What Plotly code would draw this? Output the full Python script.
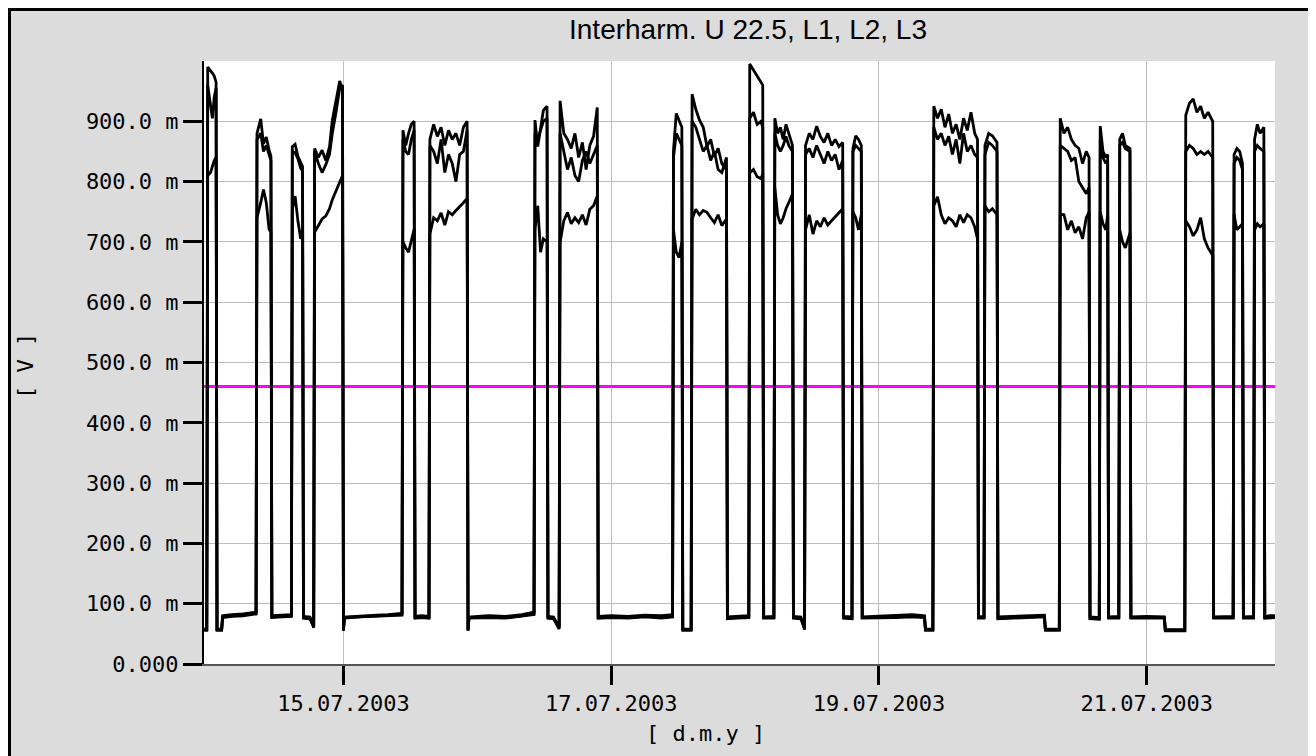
import plotly.graph_objects as go

# ---------------- data ----------------
# sample times, "DD HH:MM" in July 2003, one line per segment (low / high phases)
times = [
    "13 23:00", "13 23:30",
    "13 23:40", "14 00:10", "14 00:30", "14 00:50", "14 01:10",
    "14 01:20", "14 02:10", "14 02:20", "14 04:00", "14 06:00", "14 08:20",
    "14 08:30", "14 09:10", "14 09:40", "14 10:10", "14 10:40", "14 11:00",
    "14 11:10", "14 13:00", "14 14:40",
    "14 14:50", "14 15:20", "14 15:50", "14 16:20", "14 16:40",
    "14 16:50", "14 18:00", "14 18:40",
    "14 18:50", "14 19:30", "14 20:10", "14 20:50", "14 21:30", "14 22:00", "14 22:40", "14 23:20", "14 23:50",
    "15 00:00", "15 00:10", "15 03:00", "15 06:00", "15 08:00", "15 10:30",
    "15 10:40", "15 11:10", "15 11:40", "15 12:10", "15 12:40",
    "15 12:50", "15 14:00", "15 15:20",
    "15 15:30", "15 16:10", "15 16:50", "15 17:30", "15 18:10", "15 18:50", "15 19:30", "15 20:10", "15 20:50", "15 21:30", "15 22:10",
    "15 22:20", "15 22:30", "16 02:00", "16 05:00", "16 08:00", "16 10:10",
    "16 10:20", "16 10:50", "16 11:20", "16 11:50", "16 12:30",
    "16 12:40", "16 13:40", "16 14:40",
    "16 14:50", "16 15:30", "16 16:10", "16 16:50", "16 17:30", "16 18:10", "16 18:50", "16 19:30", "16 20:10", "16 20:50", "16 21:30",
    "16 21:40", "17 00:00", "17 03:00", "17 06:00", "17 09:00", "17 11:00",
    "17 11:10", "17 11:40", "17 12:10", "17 12:40",
    "17 12:50", "17 14:20",
    "17 14:30", "17 15:10", "17 15:50", "17 16:30", "17 17:10", "17 17:50", "17 18:30", "17 19:10", "17 19:50", "17 20:40",
    "17 20:50", "17 22:30", "18 00:40",
    "18 00:50", "18 01:30", "18 02:10", "18 02:50", "18 03:10",
    "18 03:20", "18 05:10",
    "18 05:20", "18 05:50", "18 06:20", "18 06:50", "18 07:20", "18 07:50", "18 08:30",
    "18 08:40", "18 10:00", "18 10:40",
    "18 10:50", "18 11:30", "18 12:10", "18 12:50", "18 13:30", "18 14:10", "18 14:50", "18 15:30", "18 16:10", "18 16:50", "18 17:30",
    "18 17:40", "18 19:10",
    "18 19:20", "18 19:50", "18 20:20", "18 20:50",
    "18 21:00", "19 00:00", "19 03:00", "19 06:00", "19 08:10", "19 08:20", "19 09:40",
    "19 09:50", "19 10:30", "19 11:10", "19 11:50", "19 12:30", "19 13:10", "19 13:50", "19 14:30", "19 15:10", "19 15:50", "19 16:30", "19 17:10", "19 17:40",
    "19 17:50", "19 18:50",
    "19 19:00", "19 19:40", "19 20:20", "19 21:10",
    "19 21:20", "20 00:00", "20 03:00", "20 05:40", "20 05:50", "20 08:20",
    "20 08:30", "20 09:10", "20 09:50", "20 10:30", "20 11:10", "20 11:50", "20 12:30", "20 13:10", "20 13:40",
    "20 13:50", "20 15:30",
    "20 15:40", "20 16:10", "20 16:40", "20 17:00",
    "20 17:10", "20 19:00",
    "20 19:10", "20 19:40", "20 20:10", "20 21:00",
    "20 21:10", "21 00:00", "21 03:10", "21 03:20", "21 06:50",
    "21 07:00", "21 07:40", "21 08:20", "21 09:00", "21 09:40", "21 10:20", "21 11:00", "21 11:50",
    "21 12:00", "21 15:30",
    "21 15:40", "21 16:10", "21 16:40", "21 17:10",
    "21 17:20", "21 19:10",
    "21 19:20", "21 19:50", "21 20:20", "21 21:00",
    "21 21:10", "21 22:00", "21 23:00",
]

# values in mV
l1 = [
    57, 57,
    990, 985, 980, 975, 965,
    57, 57, 80, 82, 83, 86,
    880, 904, 863, 874, 852, 842,
    80, 81, 82,
    858, 862, 842, 830, 825,
    79, 78, 60,
    855, 840, 852, 835, 858, 902, 934, 967, 951,
    55, 78, 80, 81, 82, 84,
    885, 860, 880, 895, 900,
    79, 80, 79,
    870, 895, 875, 890, 860, 885, 870, 880, 860, 890, 900,
    55, 78, 80, 79, 82, 86,
    902, 858, 890, 918, 925,
    79, 78, 60,
    934, 880, 870, 855, 880, 840, 865, 820, 860, 875, 923,
    79, 80, 79, 81, 80, 82,
    852, 913, 900, 890,
    57, 57,
    945, 920, 902, 890, 858, 870, 842, 855, 830, 820,
    78, 79, 80,
    995, 985, 975, 965, 960,
    78, 79,
    905, 880, 890, 870, 895, 880, 860,
    79, 78, 57,
    860, 880, 870, 892, 875, 865, 880, 860, 870, 858, 865,
    79, 78,
    855, 876, 870, 860,
    78, 79, 80, 82, 80, 57, 57,
    925, 905, 920, 890, 912, 880, 895, 870, 905, 885, 915, 880, 870,
    78, 79,
    860, 880, 876, 865,
    78, 79, 80, 81, 57, 57,
    905, 880, 890, 870, 860, 855, 830, 850, 840,
    78, 77,
    892, 850, 840, 845,
    78, 79,
    870, 880, 860, 855,
    78, 79, 78, 56, 56,
    910, 930, 937, 915, 925, 905, 915, 900,
    78, 79,
    845, 855, 850, 830,
    78, 79,
    870, 895, 880, 890,
    78, 80, 80,
]

l2 = [
    56, 56,
    960, 930, 905, 940, 955,
    56, 56, 78, 80, 81, 84,
    870, 880, 850, 860, 845, 835,
    78, 79, 80,
    850, 848, 838, 822, 818,
    77, 76, 62,
    850, 830, 815, 828, 845, 880, 915, 955, 960,
    57, 77, 79, 80, 81, 83,
    870, 850, 845, 870, 885,
    77, 78, 77,
    860, 850, 830, 870, 815, 845, 830, 800, 845, 850, 885,
    57, 77, 78, 77, 80, 84,
    880, 870, 885, 900, 905,
    77, 76, 62,
    880, 850, 820, 840, 810, 800, 835, 850, 830, 845, 860,
    77, 78, 77, 79, 78, 80,
    840, 880, 870, 860,
    56, 56,
    900, 890, 870, 850, 860, 835, 850, 820, 815, 840,
    76, 77, 78,
    905, 915, 895, 900, 890,
    77, 77,
    880, 860, 850, 860, 875, 860, 850,
    77, 76, 59,
    845, 855, 840, 860, 845, 830, 850, 835, 845, 820, 835,
    77, 76,
    850, 860, 855, 850,
    77, 77, 78, 80, 78, 56, 56,
    890, 870, 880, 860, 875, 845, 870, 830, 880, 850, 860, 845, 840,
    77, 77,
    845, 865, 860, 850,
    76, 77, 78, 79, 56, 56,
    860, 855, 850, 835, 840, 800, 790, 780, 790,
    76, 75,
    870, 840, 830, 835,
    77, 77,
    860, 865, 855, 850,
    77, 77, 77, 55, 55,
    850, 860, 855, 845, 850, 845, 850, 840,
    77, 77,
    830, 840, 835, 820,
    77, 77,
    850, 860, 855, 850,
    77, 78, 78,
]

l3 = [
    58, 58,
    810, 815, 825, 835, 840,
    58, 58, 77, 79, 80, 83,
    740, 765, 787, 765, 721, 716,
    77, 78, 79,
    754, 776, 735, 705, 721,
    76, 75, 63,
    716, 728, 738, 743, 755, 770, 785, 800, 810,
    56, 76, 78, 79, 79, 81,
    700, 690, 683, 705, 721,
    76, 77, 76,
    713, 740, 735, 748, 728, 750, 745, 752, 758, 765, 772,
    56, 76, 77, 76, 79, 82,
    721, 760, 683, 705, 700,
    76, 75, 58,
    699, 735, 749, 730, 740, 732, 745, 728, 754, 760, 776,
    76, 77, 76, 78, 76, 78,
    720, 683, 674, 700,
    58, 58,
    738, 754, 745, 752, 749, 740, 732, 745, 727, 738,
    75, 76, 77,
    815, 820, 808, 805, 812,
    76, 76,
    790, 745, 730, 740, 755, 765, 780,
    76, 75, 60,
    720, 745, 713, 735, 725, 740, 728, 735, 742, 748, 755,
    76, 75,
    750, 740, 720, 745,
    76, 76, 77, 78, 77, 58, 58,
    760, 775, 745, 730, 740, 735, 725, 745, 732, 745, 740, 725, 705,
    76, 76,
    760, 750, 755, 745,
    75, 76, 77, 78, 58, 58,
    746, 745, 720, 735, 715, 725, 705, 740, 750,
    75, 74,
    750, 730, 720, 745,
    76, 76,
    720, 700, 690, 715,
    76, 76, 76, 57, 57,
    735, 725, 710, 720, 740, 705, 690, 678,
    76, 76,
    745, 720, 725, 730,
    76, 76,
    720, 730, 725, 730,
    76, 77, 77,
]

limit_times = ["2003-07-13 23:00", "2003-07-21 23:00"]
limit_values = [460, 460]

x_range = ["2003-07-13 23:00", "2003-07-21 23:00"]
x_tick_vals = ["2003-07-15", "2003-07-17", "2003-07-19", "2003-07-21"]
x_tick_text = ["15.07.2003", "17.07.2003", "19.07.2003", "21.07.2003"]
y_tick_vals = [0, 100, 200, 300, 400, 500, 600, 700, 800, 900]
y_tick_text = ["0.000", "100.0 m", "200.0 m", "300.0 m", "400.0 m",
               "500.0 m", "600.0 m", "700.0 m", "800.0 m", "900.0 m"]

title_text = "Interharm. U 22.5, L1, L2, L3"
series_names = ["L1", "L2", "L3"]

assert len(times) == len(l1) == len(l2) == len(l3)
x_dates = ["2003-07-" + t for t in times]

# ---------------- layout geometry (page pixels; the page body adds an 8px offset) ----------------
OFF = 8
W, H = 1316 - OFF, 756 - OFF
L_abs, R_abs, T_abs, B_abs = 204, 1275, 61, 664
L, R, T, B = L_abs - OFF, R_abs - OFF, T_abs - OFF, B_abs - OFF
PW, PH = R - L, B - T


def px(x_abs):
    return (x_abs - OFF - L) / PW


def py(y_abs):
    return (B - (y_abs - OFF)) / PH


MONO = "DejaVu Sans Mono"

fig = go.Figure()

fig.add_trace(go.Scatter(
    x=limit_times, y=limit_values, mode="lines",
    line=dict(color="#ff00ff", width=3), showlegend=False, hoverinfo="skip"))

for name, vals in zip(series_names, [l1, l2, l3]):
    fig.add_trace(go.Scatter(
        x=x_dates, y=vals, mode="lines", name=name,
        line=dict(color="black", width=2.8), showlegend=False))

fig.update_layout(
    width=W, height=H,
    margin=dict(l=L, r=W - R, t=T, b=H - B, autoexpand=False),
    paper_bgcolor="white",
    plot_bgcolor="white",
    showlegend=False,
    shapes=[
        dict(type="rect", xref="paper", yref="paper", layer="below",
             x0=px(OFF + 1.5), x1=px(1311), y0=py(800), y1=py(OFF + 1.5),
             fillcolor="#dcdcdc", line=dict(color="black", width=3)),
        dict(type="rect", xref="paper", yref="paper", layer="below",
             x0=0, x1=1, y0=0, y1=1,
             fillcolor="white", line=dict(width=0)),
    ],
    annotations=[
        dict(text=title_text, xref="paper", yref="paper",
             x=px(748), y=py(30), xanchor="center", yanchor="middle",
             showarrow=False, font=dict(family="Liberation Sans", size=28, color="black")),
        dict(text="[ V ]", xref="paper", yref="paper",
             x=px(25), y=py(366), xanchor="center", yanchor="middle", textangle=-90,
             showarrow=False, font=dict(family=MONO, size=22, color="black")),
        dict(text="[ d.m.y ]", xref="paper", yref="paper",
             x=px(705), y=py(733), xanchor="center", yanchor="middle",
             showarrow=False, font=dict(family=MONO, size=22, color="black")),
    ],
)

fig.update_xaxes(
    type="date", range=x_range,
    tickvals=x_tick_vals, ticktext=x_tick_text,
    ticks="outside", ticklen=19, tickwidth=2.5, tickcolor="black",
    tickfont=dict(family=MONO, size=22, color="black"),
    showgrid=True, gridcolor="#bdbdbd", gridwidth=1,
    showline=True, linecolor="#555555", linewidth=2,
    zeroline=False,
)
fig.update_yaxes(
    range=[0, 1000],
    tickvals=y_tick_vals, ticktext=y_tick_text,
    ticks="outside", ticklen=19, tickwidth=2.5, tickcolor="black",
    tickfont=dict(family=MONO, size=22, color="black"),
    showgrid=True, gridcolor="#bdbdbd", gridwidth=1,
    showline=True, linecolor="black", linewidth=2,
    zeroline=False,
)

fig.write_html("out.html")
